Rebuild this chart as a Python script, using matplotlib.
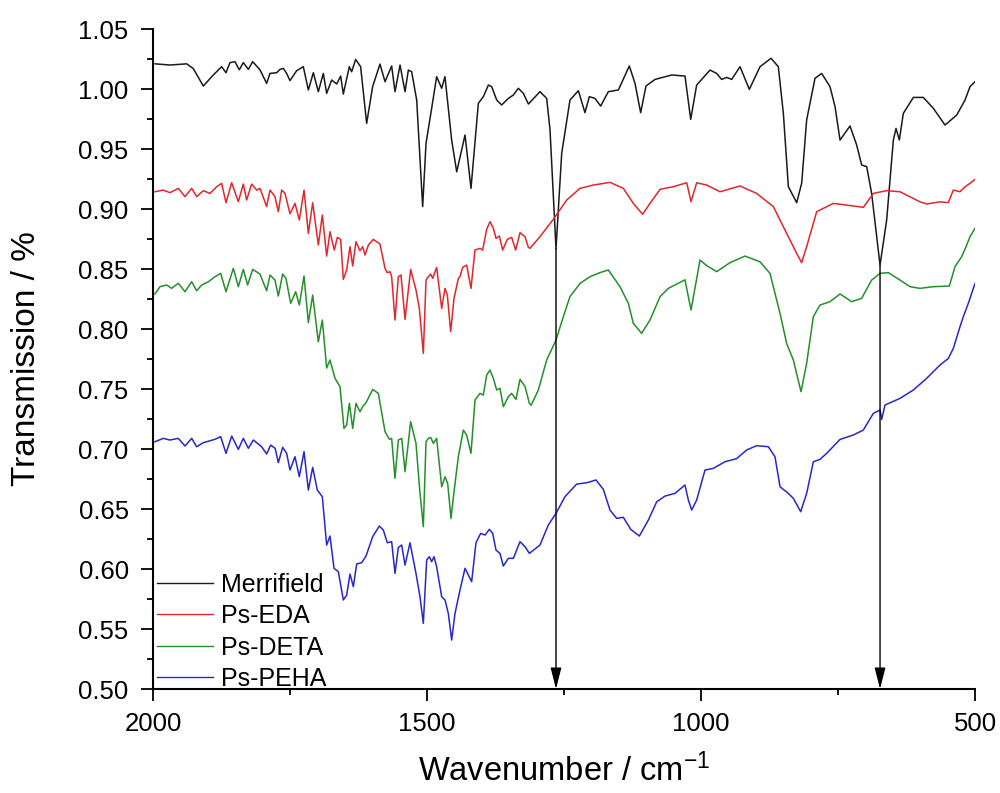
import matplotlib
matplotlib.use("Agg")
import matplotlib.pyplot as plt
from matplotlib.ticker import MultipleLocator, FormatStrFormatter

plt.rcParams['font.family'] = ['Liberation Sans', 'DejaVu Sans']
plt.rcParams['mathtext.default'] = 'regular'

# ---------------- data (wavenumber cm-1, transmission) ----------------
merr_wn = [1996.4, 1969, 1938.6, 1926.4, 1908.2, 1890, 1874.7, 1866.8, 1859.5, 1850.4,
           1842.5, 1835.2, 1826, 1818.1, 1804.8, 1792.6, 1786.5, 1774.3, 1768.3, 1762.2,
           1756.1, 1750, 1737.8, 1725.7, 1716.5, 1707.4, 1698.3, 1689.2, 1683.1, 1674,
           1664.8, 1657.5, 1652.7, 1641.7, 1637.5, 1630.2, 1621.1, 1610.1, 1599.2, 1585.8,
           1576.6, 1564.5, 1558.4, 1549.2, 1540.1, 1534, 1528, 1518.8, 1507.9, 1501.8,
           1491.5, 1482.4, 1473.2, 1467.2, 1455, 1445.8, 1430.6, 1419.7, 1406.3, 1397.2,
           1388, 1382, 1372.8, 1363.7, 1351.5, 1342.4, 1333.3, 1324.2, 1315, 1293.8,
           1281.6, 1275.5, 1264.6, 1254.2, 1239.1, 1223.8, 1211.7, 1203.8, 1193.4, 1183.1,
           1169.1, 1150.8, 1130.8, 1120.4, 1110.1, 1100.4, 1083.9, 1053.5, 1029.2, 1018.8,
           1007.9, 983.6, 971.4, 962.3, 953.1, 944, 928.8, 911.8, 892.3, 872.2,
           858.9, 849.7, 840.6, 825.4, 816.3, 807.2, 792, 779.8, 764.6, 755.4,
           746.3, 728.1, 715.9, 706.8, 697.6, 688.6, 673.3, 661.2, 649, 644.1,
           638.1, 630.8, 612.5, 594.3, 576, 554.7, 533.4, 518.2, 509.1, 500]
merr_t = [1.021, 1.020, 1.021, 1.017, 1.0025, 1.0117, 1.0186, 1.0136, 1.022, 1.0228,
          1.016, 1.022, 1.0164, 1.0228, 1.016, 1.0047, 1.013, 1.0136, 1.0164, 1.0172,
          1.013, 1.007, 1.0153, 1.0186, 0.9992, 1.0136, 0.9978, 1.013, 0.9964, 1.0075,
          1.0042, 1.0108, 0.9958, 1.0186, 1.0144, 1.0247, 1.0186, 0.9714, 1.002, 1.0208,
          1.0061, 1.0192, 0.9978, 1.020, 0.9978, 1.0158, 1.0144, 0.9908, 0.902, 0.9547,
          0.9839, 1.0103, 1.0006, 1.0103, 0.9575, 0.931, 0.9617, 0.9172, 0.9881, 0.9936,
          1.0033, 1.002, 0.9908, 0.9867, 0.9922, 0.995, 1.0006, 0.9964, 0.9875, 0.9978,
          0.9922, 0.9658, 0.867, 0.9464, 0.9908, 0.9986, 0.9803, 0.9936, 0.9922, 0.9858,
          0.9978, 0.9992, 1.0192, 1.0047, 0.9803, 1.0025, 1.008, 1.0117, 1.0108, 0.9747,
          1.0033, 1.0158, 1.013, 1.008, 1.0097, 1.008, 1.0186, 0.9997, 1.0186, 1.0256,
          1.0186, 0.9797, 0.9186, 0.9053, 0.9214, 0.9742, 1.0089, 1.013, 1.002, 0.9853,
          0.9575, 0.9692, 0.9533, 0.9367, 0.9353, 0.913, 0.8533, 0.8908, 0.9575, 0.9672,
          0.9575, 0.9797, 0.993, 0.993, 0.9839, 0.970, 0.9783, 0.9908, 1.002, 1.0061]

eda_wn = [1996.4, 1981.2, 1969, 1953.8, 1941.6, 1929.4, 1920.3, 1908.2, 1896, 1883.8,
          1874.7, 1866.8, 1856.4, 1844.3, 1835.2, 1829.1, 1820, 1810.8, 1804.8, 1792.6,
          1786.5, 1777.4, 1771.3, 1765.2, 1759.1, 1750, 1740.9, 1733, 1724.4, 1716.5,
          1708.6, 1698.3, 1691, 1683.1, 1677, 1669.1, 1663.6, 1657.5, 1652.7, 1646.6,
          1640.5, 1635.6, 1629.6, 1622.3, 1617.4, 1613.1, 1607, 1597.9, 1585.8, 1576.6,
          1572.4, 1567.5, 1564.5, 1558.4, 1552.3, 1547.4, 1540.1, 1529.8, 1520.1, 1514,
          1506.7, 1501.8, 1497.5, 1493.3, 1489.6, 1482.4, 1473.2, 1467.1, 1462.9, 1456.8,
          1450.7, 1442.8, 1439.8, 1434.9, 1427.6, 1419.7, 1412.4, 1403.3, 1398.4, 1391.1,
          1385, 1378.9, 1374.1, 1368, 1361.9, 1353.4, 1345.5, 1338.2, 1330.3, 1321.1,
          1315.1, 1312, 1293.8, 1269.5, 1245.1, 1220.8, 1196.5, 1166.1, 1141.7, 1123.5,
          1106.5, 1093.1, 1074.8, 1050.5, 1026.1, 1018.2, 1007.9, 989.6, 965.3, 928.8,
          898.4, 868, 843.7, 825.4, 816.3, 807.2, 788.9, 758.5, 734.2, 703.8,
          685.6, 661.2, 636.9, 600.4, 588.2, 563.9, 548.7, 539.5, 527.4, 518.2,
          509.1, 500]
eda_t = [0.9144, 0.9158, 0.9136, 0.9172, 0.9103, 0.9172, 0.9103, 0.9153, 0.913, 0.9186,
         0.9214, 0.9053, 0.9219, 0.9061, 0.9208, 0.9075, 0.9208, 0.9158, 0.9172, 0.902,
         0.9158, 0.9103, 0.8978, 0.9158, 0.913, 0.896, 0.9047, 0.8908, 0.9158, 0.8797,
         0.9053, 0.870, 0.895, 0.8608, 0.8811, 0.8658, 0.8764, 0.8747, 0.8414, 0.8492,
         0.8686, 0.8525, 0.8728, 0.8653, 0.8686, 0.8617, 0.870, 0.8747, 0.8708, 0.8506,
         0.8469, 0.8478, 0.8436, 0.8075, 0.8436, 0.845, 0.8081, 0.8497, 0.8325, 0.8172,
         0.7797, 0.8408, 0.8436, 0.8458, 0.8422, 0.8514, 0.8172, 0.8339, 0.8283, 0.7978,
         0.8256, 0.8422, 0.8436, 0.8514, 0.8533, 0.8339, 0.8658, 0.8672, 0.8658, 0.8831,
         0.8894, 0.8839, 0.8756, 0.8775, 0.8658, 0.8747, 0.8764, 0.8658, 0.8803, 0.8769,
         0.8681, 0.8672, 0.877, 0.8914, 0.9075, 0.9172, 0.920, 0.9222, 0.9172, 0.9047,
         0.8956, 0.9047, 0.9164, 0.9186, 0.9219, 0.9061, 0.9219, 0.920, 0.9144, 0.9192,
         0.913, 0.902, 0.8797, 0.863, 0.8553, 0.8686, 0.8978, 0.9047, 0.9033, 0.9014,
         0.913, 0.9153, 0.9144, 0.906, 0.9042, 0.906, 0.9053, 0.9158, 0.9144, 0.9186,
         0.9214, 0.9247]

deta_wn = [1996.4, 1987.2, 1975.1, 1966, 1953.8, 1941.6, 1929.4, 1920.3, 1911.2, 1899,
           1886.9, 1876.5, 1866.8, 1853.4, 1844.3, 1835.2, 1827.3, 1818.1, 1804.8, 1792.6,
           1786.5, 1777.4, 1771.3, 1763.4, 1757.3, 1748.8, 1739.6, 1733, 1724.4, 1716.5,
           1708.6, 1698.3, 1691, 1683.1, 1677, 1667.9, 1658.8, 1651.5, 1646.6, 1641.7,
           1635.6, 1629.6, 1622.3, 1617.4, 1611.3, 1599.1, 1588.8, 1576.6, 1568.7, 1564.5,
           1558.4, 1552.3, 1546.2, 1540.1, 1529.8, 1520.1, 1512.8, 1506.7, 1501.8, 1497.5,
           1493.3, 1488.4, 1482.4, 1473.2, 1467.1, 1462.3, 1456.2, 1450.7, 1442.8, 1433.7,
           1427.6, 1419.7, 1412.4, 1403.3, 1397.2, 1391.1, 1385, 1378.9, 1372.9, 1366.8,
           1360.7, 1351.6, 1345.5, 1337.6, 1330.3, 1321.1, 1313.2, 1310, 1296.8, 1281.6,
           1264.6, 1251.2, 1239.1, 1220.8, 1202.6, 1184.3, 1169.1, 1147.8, 1132.6, 1123.5,
           1108.3, 1093.1, 1074.8, 1059.6, 1029.2, 1018.2, 1001.8, 990, 971.4, 947.1,
           919.7, 892.3, 874.1, 858.9, 855.8, 843.7, 831.5, 817.5, 807.2, 795,
           782.8, 764.6, 746.3, 725.1, 706.8, 688.6, 673.3, 658.1, 636.9, 618.6,
           600.4, 576, 546.8, 536.5, 524.3, 516.4, 509.1, 500]
deta_t = [0.8292, 0.8353, 0.8367, 0.8339, 0.8381, 0.8311, 0.8394, 0.8319, 0.8367, 0.8394,
          0.8436, 0.8464, 0.8311, 0.8506, 0.8353, 0.8497, 0.8367, 0.8497, 0.8458, 0.8319,
          0.845, 0.8408, 0.8275, 0.8458, 0.8422, 0.8214, 0.8311, 0.820, 0.8442, 0.8053,
          0.8283, 0.7894, 0.8075, 0.7675, 0.7742, 0.7589, 0.752, 0.7172, 0.720, 0.7381,
          0.7172, 0.7381, 0.7311, 0.7353, 0.7386, 0.7497, 0.7464, 0.7145, 0.7081, 0.7089,
          0.6756, 0.7075, 0.7089, 0.6811, 0.7228, 0.7047, 0.6631, 0.6353, 0.7061, 0.7089,
          0.7097, 0.7047, 0.7089, 0.6686, 0.6769, 0.6714, 0.6422, 0.6644, 0.6936, 0.7158,
          0.7117, 0.6964, 0.7408, 0.7464, 0.745, 0.7617, 0.7658, 0.7589, 0.7492, 0.7506,
          0.7353, 0.7436, 0.7464, 0.7414, 0.7581, 0.752, 0.7381, 0.7365, 0.7492, 0.7742,
          0.7908, 0.8103, 0.827, 0.838, 0.8436, 0.847, 0.8492, 0.8353, 0.8214, 0.8047,
          0.7964, 0.8075, 0.8269, 0.8339, 0.841, 0.8158, 0.8575, 0.853, 0.8478, 0.8553,
          0.8608, 0.856, 0.8464, 0.8186, 0.813, 0.788, 0.7742, 0.7478, 0.7714, 0.8103,
          0.820, 0.8228, 0.8292, 0.8228, 0.8256, 0.8408, 0.8464, 0.847, 0.8408, 0.8353,
          0.8339, 0.8353, 0.8358, 0.852, 0.8603, 0.8686, 0.877, 0.8839]

peha_wn = [1996.4, 1981.2, 1969, 1953.8, 1941.6, 1929.4, 1920.3, 1908.2, 1886.9, 1876.5,
           1866.8, 1856.4, 1844.3, 1835.2, 1826, 1816.9, 1801.7, 1792.6, 1785.3, 1777,
           1771.3, 1763.4, 1756.1, 1750, 1740.9, 1733, 1724.4, 1716.5, 1708.6, 1700.1,
           1691, 1683.1, 1677, 1669.7, 1661.8, 1652.7, 1646.6, 1640.5, 1634.4, 1628.3,
           1619.2, 1611.3, 1599.1, 1587, 1579.7, 1572.4, 1564.5, 1558.4, 1552.3, 1546.2,
           1540.1, 1531, 1520.1, 1512.8, 1506.7, 1500.6, 1495.7, 1491.5, 1487.2, 1482.4,
           1473.2, 1467.1, 1461.1, 1455, 1448.9, 1439.8, 1430.6, 1418.5, 1410.6, 1402.1,
           1394.1, 1386.2, 1380.1, 1374.1, 1366.8, 1360.7, 1351.6, 1342.4, 1330.3, 1321.1,
           1313.2, 1293.8, 1278.6, 1264.6, 1248.2, 1226.9, 1208.6, 1191.6, 1178.2, 1166.1,
           1153.9, 1141.7, 1128.3, 1112.5, 1096.1, 1080.9, 1065.7, 1047.4, 1029.2, 1023.1,
           1017, 1007.9, 992.7, 977.5, 956.2, 935, 916.7, 898.4, 877.1, 865,
           855.8, 840.6, 831.5, 818.1, 807.2, 795, 782.8, 770.7, 746.3, 722,
           703.8, 685.5, 673.3, 670.3, 664.2, 636.9, 612.5, 588.2, 563.9, 548.7,
           539.5, 527.4, 521.3, 512.2, 500]
peha_t = [0.7061, 0.7089, 0.7075, 0.7089, 0.7025, 0.7089, 0.7019, 0.7053, 0.7081, 0.7103,
          0.6964, 0.7108, 0.6997, 0.7089, 0.7006, 0.7075, 0.7019, 0.6958, 0.7033, 0.7005,
          0.6886, 0.7014, 0.6964, 0.6825, 0.6936, 0.677, 0.6978, 0.6658, 0.6847, 0.6658,
          0.6603, 0.620, 0.6275, 0.6006, 0.5978, 0.5742, 0.5783, 0.5958, 0.5853, 0.6042,
          0.6053, 0.6108, 0.627, 0.6358, 0.6325, 0.6219, 0.6228, 0.5964, 0.618, 0.620,
          0.6033, 0.6219, 0.5964, 0.5769, 0.5547, 0.6075, 0.6103, 0.6061, 0.6103, 0.6019,
          0.5769, 0.5742, 0.563, 0.5408, 0.563, 0.5825, 0.6006, 0.5895, 0.6219, 0.6297,
          0.6283, 0.6331, 0.6297, 0.6158, 0.613, 0.6025, 0.6089, 0.6089, 0.6228, 0.6186,
          0.6131, 0.620, 0.6367, 0.6464, 0.6603, 0.6708, 0.6719, 0.6742, 0.6664, 0.6492,
          0.6422, 0.6431, 0.6331, 0.6275, 0.6408, 0.656, 0.6608, 0.6631, 0.670, 0.6575,
          0.6492, 0.6575, 0.6825, 0.6839, 0.6894, 0.692, 0.6992, 0.7028, 0.7019, 0.6936,
          0.6686, 0.663, 0.6589, 0.6478, 0.663, 0.6894, 0.6914, 0.6964, 0.708, 0.7117,
          0.7158, 0.7297, 0.7325, 0.7247, 0.7367, 0.7422, 0.7492, 0.7589, 0.770, 0.7755,
          0.7839, 0.8019, 0.8103, 0.8214, 0.838]

labels = ['Merrifield', 'Ps-EDA', 'Ps-DETA', 'Ps-PEHA']
colors = ['#1a1a1a', '#e3262b', '#23902a', '#2727cc']

# annotated bands (arrow from the Merrifield minimum down to the axis)
arrow_wn = [1264.6, 673.3]
arrow_top = [0.867, 0.8533]

# ---------------- figure ----------------
fig = plt.figure(figsize=(10.0, 7.93), dpi=100)
ax = fig.add_axes([0.153, 0.1311, 0.822, 0.8323])

series = [(merr_wn, merr_t), (eda_wn, eda_t), (deta_wn, deta_t), (peha_wn, peha_t)]
for (x, y), lab, c in zip(series, labels, colors):
    ax.plot(x, y, color=c, lw=1.1, label=lab)

for xw, yt in zip(arrow_wn, arrow_top):
    ax.annotate('', xy=(xw, 0.50), xytext=(xw, yt),
                arrowprops=dict(arrowstyle='-|>,head_length=1.3,head_width=0.33',
                                color='black', lw=1.0, shrinkA=0, shrinkB=0,
                                mutation_scale=10))

ax.set_xlim(2000, 500)
ax.set_ylim(0.50, 1.05)

ax.xaxis.set_major_locator(MultipleLocator(500))
ax.xaxis.set_minor_locator(MultipleLocator(250))
ax.yaxis.set_major_locator(MultipleLocator(0.05))
ax.yaxis.set_minor_locator(MultipleLocator(0.025))
ax.yaxis.set_major_formatter(FormatStrFormatter('%.2f'))

for s in ['top', 'right']:
    ax.spines[s].set_visible(False)
for s in ['left', 'bottom']:
    ax.spines[s].set_linewidth(1.5)

ax.tick_params(axis='both', which='major', direction='out', length=8.5, width=1.3,
               labelsize=18.5)
ax.tick_params(axis='both', which='minor', direction='out', length=4, width=1.3)
ax.tick_params(axis='x', which='major', pad=8)
ax.tick_params(axis='y', which='major', pad=9)

ax.set_xlabel(r'Wavenumber / cm$^{-1}$', fontsize=23.5, labelpad=13)
ax.set_ylabel('Transmission / %', fontsize=24, labelpad=26)

leg = ax.legend(loc='lower left', bbox_to_anchor=(0.005, -0.003), frameon=False,
                fontsize=18, handlelength=2.25, handletextpad=0.3,
                labelspacing=0.3, borderaxespad=0.0, borderpad=0.0)
for line in leg.get_lines():
    line.set_linewidth(1.0)

fig.savefig('out.png', dpi=100)
